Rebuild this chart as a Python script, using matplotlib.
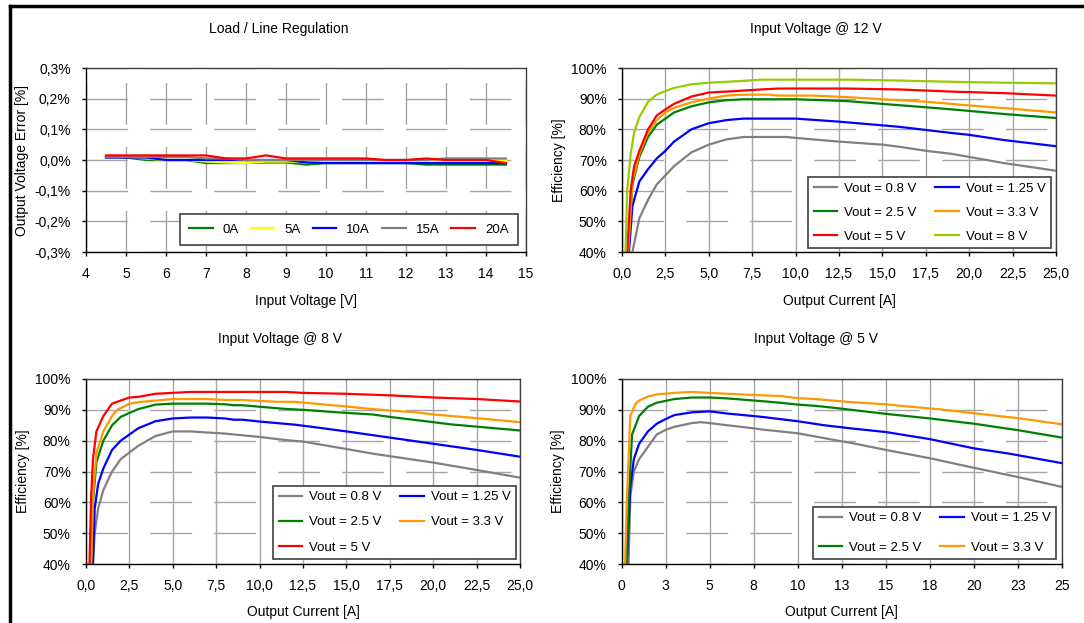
import matplotlib
matplotlib.use("Agg")
import matplotlib.pyplot as plt
from matplotlib.lines import Line2D

plt.rcParams['font.family'] = ['Liberation Sans', 'DejaVu Sans']
plt.rcParams['font.size'] = 10

# --- Load / Line regulation data ---
vin = [4.5, 5, 5.5, 6, 6.5, 7, 7.5, 8, 8.5, 9, 9.5, 10, 10.5, 11, 11.5, 12, 12.5, 13, 13.5, 14, 14.5]
reg_0a = [0.010, 0.008, 0.000, 0.000, 0.000, -0.010, -0.010, -0.010, -0.008, -0.008, -0.015, -0.010, -0.010,
          -0.010, -0.010, -0.010, -0.015, -0.015, -0.015, -0.015, -0.015]
reg_5a = [0.010, 0.010, 0.005, 0.000, 0.000, -0.005, -0.008, -0.010, -0.005, -0.005, -0.008, -0.008, -0.008,
          -0.008, -0.008, -0.008, -0.005, -0.005, -0.005, -0.003, 0.000]
reg_10a = [0.008, 0.008, 0.008, 0.000, 0.000, 0.000, 0.000, 0.000, 0.000, 0.000, -0.008, -0.010, -0.010,
           -0.010, -0.010, -0.010, -0.010, -0.010, -0.010, -0.010, -0.010]
reg_15a = [0.010, 0.010, 0.010, 0.010, 0.010, 0.005, 0.005, 0.000, 0.000, 0.000, 0.000, 0.000, 0.000,
           0.000, 0.000, 0.000, 0.000, 0.005, 0.005, 0.005, 0.005]
reg_20a = [0.015, 0.015, 0.015, 0.015, 0.015, 0.015, 0.005, 0.005, 0.015, 0.005, 0.005, 0.005, 0.005,
           0.005, 0.000, 0.000, 0.005, 0.000, 0.000, 0.000, -0.010]
reg_labels = ["0A", "5A", "10A", "15A", "20A"]

# --- Efficiency @ 12 V ---
i12_08 = [0.6, 1.0, 1.5, 2, 2.5, 3, 4, 5, 6, 7, 8, 9, 9.5, 10, 12.5, 15, 16, 17.5, 19, 20, 22, 25]
e12_08 = [40, 51, 57, 62, 65, 68, 72.5, 75, 76.7, 77.5, 77.5, 77.5, 77.5, 77.2, 76, 75, 74.3, 73, 72, 71, 69, 66.5]
i12_125 = [0.4, 0.6, 1.0, 1.5, 2, 2.5, 3, 4, 5, 6, 7, 8, 10, 12.5, 15, 16, 17.5, 19, 20, 22, 25]
e12_125 = [40, 55, 63, 67, 70.5, 73, 76, 80, 82, 83, 83.5, 83.5, 83.5, 82.5, 81.3, 80.8, 79.8, 78.8, 78.2, 76.5, 74.5]
i12_25 = [0.35, 0.6, 1.0, 1.5, 2, 2.5, 3, 4, 5, 6, 7, 8, 10, 11, 13, 15, 17.5, 19, 20, 22, 25]
e12_25 = [40, 62, 71, 77.5, 81.5, 83.5, 85.5, 87.5, 88.8, 89.5, 89.8, 89.8, 89.8, 89.6, 89.2, 88.3, 87.2, 86.5, 86, 85, 83.7]
i12_33 = [0.35, 0.6, 1.0, 1.5, 2, 2.5, 3, 4, 5, 6, 7, 8.5, 9, 11, 13, 15, 17.5, 20, 22.5, 25]
e12_33 = [40, 63, 72, 79, 83, 85.5, 87, 88.8, 90, 91, 91.3, 91.3, 91, 91, 90.5, 89.8, 89, 87.8, 86.7, 85.5]
i12_5 = [0.3, 0.5, 0.7, 1.0, 1.5, 2, 2.5, 3, 4, 5, 6, 8, 9, 12, 13, 16, 19, 22, 25]
e12_5 = [40, 60, 68, 73, 80, 84.5, 86.5, 88.3, 90.7, 92, 92.3, 93, 93.3, 93.3, 93.3, 93, 92.3, 91.8, 91]
i12_8 = [0.2, 0.3, 0.5, 0.7, 1.0, 1.5, 2, 2.5, 3, 4, 5, 6, 7, 8, 10, 13, 16, 19, 22, 25]
e12_8 = [40, 60, 72, 79, 84, 89, 91.3, 92.5, 93.5, 94.7, 95.2, 95.5, 95.8, 96.2, 96.2, 96.2, 95.9, 95.5, 95.2, 95]

# --- Efficiency @ 8 V ---
i8_08 = [0.4, 0.5, 0.7, 1.0, 1.5, 2, 3, 4, 5, 6, 8, 10, 11.5, 12.5, 15, 16.5, 20, 22.5, 25]
e8_08 = [40, 50, 58, 64, 70, 74, 78.3, 81.5, 83, 83, 82.3, 81.2, 80.2, 79.7, 77.3, 75.8, 72.9, 70.5, 68]
i8_125 = [0.4, 0.5, 0.7, 1.0, 1.5, 2, 2.5, 3, 4, 5, 6, 7, 8, 8.5, 9, 10, 12, 13, 15, 17.5, 20, 22.5, 25]
e8_125 = [40, 58, 66, 71, 77, 80, 82, 84, 86.3, 87.2, 87.5, 87.5, 87.2, 86.8, 86.8, 86.2, 85.2, 84.5, 83, 81, 79, 77, 74.8]
i8_25 = [0.3, 0.4, 0.6, 1.0, 1.5, 2, 2.5, 3, 4, 5, 7, 8, 8.5, 9, 10, 11.5, 12.5, 15, 16.5, 17.5, 20, 21, 25]
e8_25 = [40, 60, 73, 80, 85, 87.7, 89, 90.2, 91.7, 92, 92, 91.8, 91.5, 91.5, 91, 90.3, 90, 89, 88.5, 87.7, 86, 85.3, 83.3]
i8_33 = [0.3, 0.4, 0.6, 1.0, 1.5, 1.8, 2.5, 3, 4, 5, 7, 8, 9, 10, 11, 12, 13, 15, 16, 17.5, 19, 20, 22.5, 25]
e8_33 = [40, 62, 76, 83, 88, 90, 92, 92.5, 93, 93.5, 93.5, 93.2, 93.2, 92.9, 92.6, 92.6, 92.1, 91.1, 90.5, 89.8, 89.2, 88.5, 87.3, 86]
i8_5 = [0.2, 0.3, 0.4, 0.6, 1.0, 1.5, 2, 2.5, 3, 4, 5, 6, 11.5, 12.5, 15, 17.5, 20, 22.5, 25]
e8_5 = [40, 62, 74, 83, 88, 92, 93, 94, 94.2, 95.2, 95.5, 95.8, 95.8, 95.5, 95.2, 94.7, 94, 93.5, 92.7]

# --- Efficiency @ 5 V ---
i5_08 = [0.4, 0.5, 0.7, 1.0, 1.5, 2, 2.5, 3, 4, 4.5, 5, 6, 7.5, 8, 9, 10, 12, 13, 15, 17.5, 20, 22.5, 25]
e5_08 = [40, 62, 70, 74, 78, 82, 83.5, 84.5, 85.7, 86, 85.7, 85, 84, 83.6, 83, 82.4, 80.3, 79.3, 77, 74.3, 71.2, 68.2, 65]
i5_125 = [0.3, 0.5, 0.7, 1.0, 1.5, 2, 2.5, 3, 4, 5, 6, 8, 10, 11.5, 13, 15, 17.5, 20, 22, 25]
e5_125 = [40, 65, 74, 79, 83, 85.5, 87, 88.3, 89.2, 89.5, 88.8, 87.7, 86.3, 85, 84, 82.8, 80.5, 77.5, 75.8, 72.7]
i5_25 = [0.3, 0.4, 0.6, 1.0, 1.5, 2, 3, 4, 5, 6, 8, 9, 10, 11, 12, 15, 17.5, 20, 22.5, 25]
e5_25 = [40, 60, 82, 88, 91, 92.3, 93.5, 94, 94, 93.7, 92.8, 92.3, 91.7, 91.3, 90.7, 88.7, 87.2, 85.5, 83.4, 81]
i5_33 = [0.2, 0.3, 0.5, 0.8, 1.0, 1.5, 2, 3, 4, 5, 6, 8, 9, 10, 11, 13, 15, 16, 18, 20, 22.5, 25]
e5_33 = [40, 60, 88, 92, 93, 94.3, 95, 95.5, 95.8, 95.5, 95.2, 94.7, 94.5, 93.8, 93.5, 92.5, 91.8, 91.2, 90.2, 88.9, 87.3, 85.3]

eff_ticks = [40, 50, 60, 70, 80, 90, 100]
cur_ticks = [0, 2.5, 5, 7.5, 10, 12.5, 15, 17.5, 20, 22.5, 25]
cur_labels_dec = ["0,0", "2,5", "5,0", "7,5", "10,0", "12,5", "15,0", "17,5", "20,0", "22,5", "25,0"]
cur_labels_int = ["0", "3", "5", "8", "10", "13", "15", "18", "20", "23", "25"]

C_GRAY = "#808080"
C_BLUE = "#0000ff"
C_GREEN = "#008000"
C_ORANGE = "#ff9900"
C_RED = "#ff0000"
C_LIME = "#99cc00"
C_YELLOW = "#ffff00"
GRID = "#a6a6a6"

W, H = 1084, 623
fig = plt.figure(figsize=(W / 100, H / 100), dpi=100)

ax_reg = fig.add_axes([86 / W, 1 - 252 / H, 440 / W, 184 / H])
ax12 = fig.add_axes([622 / W, 1 - 252 / H, 434 / W, 184 / H])
ax8 = fig.add_axes([86 / W, 1 - 564 / H, 434 / W, 185 / H])
ax5 = fig.add_axes([621.5 / W, 1 - 564 / H, 440.5 / W, 185 / H])


def style(ax):
    ax.set_axisbelow(True)
    for s in ax.spines.values():
        s.set_color("black")
        s.set_linewidth(1.0)
    ax.spines["top"].set_color("#404040")
    ax.spines["right"].set_color("#404040")
    ax.tick_params(direction="out", length=3, width=1, pad=8, colors="black")
    ax.xaxis.grid(True, color=GRID, linewidth=1, linestyle="-")
    ax.yaxis.grid(True, color=GRID, linewidth=1, linestyle=(0, (30, 16)))


def eff_axes(ax, labels, labelpad):
    style(ax)
    ax.set_xlim(0, 25)
    ax.set_ylim(40, 100)
    ax.set_xticks(cur_ticks)
    ax.set_xticklabels(labels)
    ax.set_yticks(eff_ticks)
    ax.set_yticklabels([f"{t}%" for t in eff_ticks])
    ax.set_xlabel("Output Current [A]", labelpad=labelpad)
    ax.set_ylabel("Efficiency [%]", labelpad=4)


def add_legend(ax, handles, ncol, anchor, spacing, colsp=1.37, textpad=0.53, bpad=0.4):
    leg = ax.legend(handles, [hh.get_label() for hh in handles], ncol=ncol,
                    loc="lower right", bbox_to_anchor=anchor, fancybox=False,
                    edgecolor="#404040", framealpha=1, fontsize=9.5, handlelength=1.8,
                    columnspacing=colsp, handletextpad=textpad, labelspacing=spacing,
                    borderaxespad=0, borderpad=bpad)
    leg.get_frame().set_linewidth(1.2)
    return leg


# Load / line regulation
style(ax_reg)
ax_reg.xaxis.grid(True, color=GRID, linewidth=1, linestyle=(0, (30, 16)))
reg_handles = []
for y, c, lab in zip([reg_0a, reg_5a, reg_10a, reg_15a, reg_20a],
                     [C_GREEN, C_YELLOW, C_BLUE, C_GRAY, C_RED], reg_labels):
    ln, = ax_reg.plot(vin, y, color=c, lw=1.6, label=lab)
    reg_handles.append(ln)
ax_reg.set_xlim(4, 15)
ax_reg.set_ylim(-0.3, 0.3)
ax_reg.set_xticks(range(4, 16))
ax_reg.set_yticks([-0.3, -0.2, -0.1, 0, 0.1, 0.2, 0.3])
ax_reg.set_yticklabels(["-0,3%", "-0,2%", "-0,1%", "0,0%", "0,1%", "0,2%", "0,3%"])
ax_reg.set_xlabel("Input Voltage [V]", labelpad=9.5)
ax_reg.set_ylabel("Output Voltage Error [%]", labelpad=4)
add_legend(ax_reg, reg_handles, 5, (0.982, 0.038), 0.5, colsp=0.9, textpad=0.76, bpad=0.7)

# @ 12 V
eff_axes(ax12, cur_labels_dec, 9.5)
h = {}
h["0.8"], = ax12.plot(i12_08, e12_08, color=C_GRAY, lw=1.6, label="Vout = 0.8 V")
h["1.25"], = ax12.plot(i12_125, e12_125, color=C_BLUE, lw=1.6, label="Vout = 1.25 V")
h["2.5"], = ax12.plot(i12_25, e12_25, color=C_GREEN, lw=1.6, label="Vout = 2.5 V")
h["3.3"], = ax12.plot(i12_33, e12_33, color=C_ORANGE, lw=1.6, label="Vout = 3.3 V")
h["5"], = ax12.plot(i12_5, e12_5, color=C_RED, lw=1.6, label="Vout = 5 V")
h["8"], = ax12.plot(i12_8, e12_8, color=C_LIME, lw=1.6, label="Vout = 8 V")
add_legend(ax12, [h[k] for k in ["0.8", "2.5", "5", "1.25", "3.3", "8"]], 2, (0.988, 0.022), 0.88)

# @ 8 V
eff_axes(ax8, cur_labels_dec, 8.5)
h = {}
h["0.8"], = ax8.plot(i8_08, e8_08, color=C_GRAY, lw=1.6, label="Vout = 0.8 V")
h["1.25"], = ax8.plot(i8_125, e8_125, color=C_BLUE, lw=1.6, label="Vout = 1.25 V")
h["2.5"], = ax8.plot(i8_25, e8_25, color=C_GREEN, lw=1.6, label="Vout = 2.5 V")
h["3.3"], = ax8.plot(i8_33, e8_33, color=C_ORANGE, lw=1.6, label="Vout = 3.3 V")
h["5"], = ax8.plot(i8_5, e8_5, color=C_RED, lw=1.6, label="Vout = 5 V")
add_legend(ax8, [h[k] for k in ["0.8", "2.5", "5", "1.25", "3.3"]], 2, (0.99, 0.027), 0.99)

# @ 5 V
eff_axes(ax5, cur_labels_int, 8.5)
h = {}
h["0.8"], = ax5.plot(i5_08, e5_08, color=C_GRAY, lw=1.6, label="Vout = 0.8 V")
h["1.25"], = ax5.plot(i5_125, e5_125, color=C_BLUE, lw=1.6, label="Vout = 1.25 V")
h["2.5"], = ax5.plot(i5_25, e5_25, color=C_GREEN, lw=1.6, label="Vout = 2.5 V")
h["3.3"], = ax5.plot(i5_33, e5_33, color=C_ORANGE, lw=1.6, label="Vout = 3.3 V")
add_legend(ax5, [h[k] for k in ["0.8", "2.5", "1.25", "3.3"]], 2, (0.986, 0.027), 1.29)

# chart titles, centred over each chart block
fig.text(279 / W, 1 - 29 / H, "Load / Line Regulation", ha="center", va="center", fontsize=10)
fig.text(816 / W, 1 - 29 / H, "Input Voltage @ 12 V", ha="center", va="center", fontsize=10)
fig.text(279.5 / W, 1 - 339 / H, "Input Voltage @ 8 V", ha="center", va="center", fontsize=10)
fig.text(816 / W, 1 - 339 / H, "Input Voltage @ 5 V", ha="center", va="center", fontsize=10)

# outer frame of the figure box (top and left edges)
fig.add_artist(Line2D([10 / W, 1], [1 - 6 / H, 1 - 6 / H], color="black", lw=2.5,
                      transform=fig.transFigure))
fig.add_artist(Line2D([10 / W, 10 / W], [0, 1 - 6 / H], color="black", lw=2.5,
                      transform=fig.transFigure))

fig.savefig("out.png", dpi=100)
